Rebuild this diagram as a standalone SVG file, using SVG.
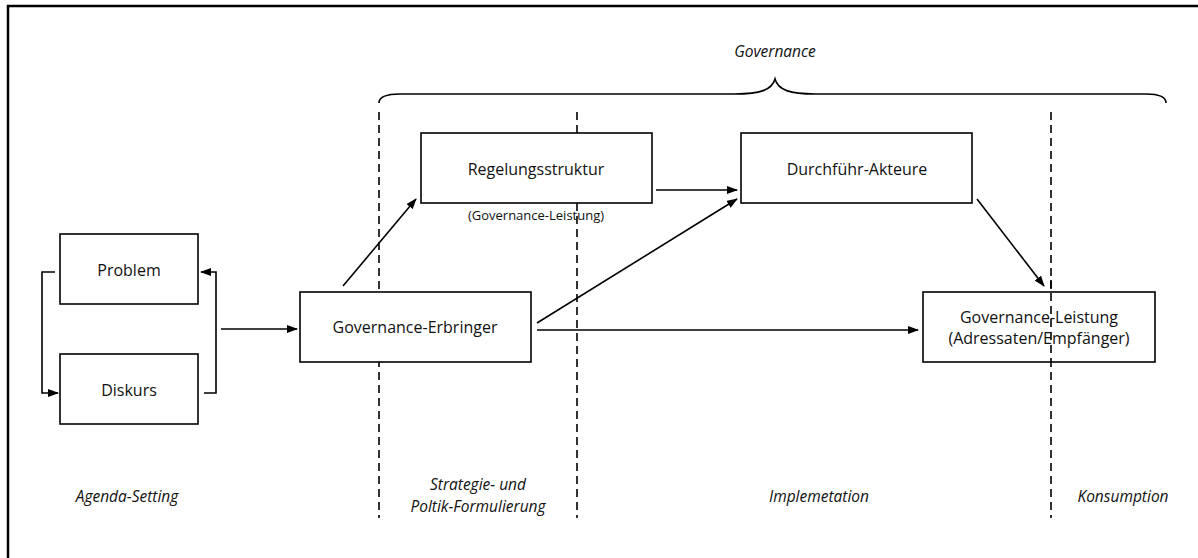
<svg xmlns="http://www.w3.org/2000/svg" width="1198" height="558" viewBox="0 0 1198 558">
<style>
.box{fill:#fff;stroke:#000;stroke-width:1.6}
.t{font-family:"Open Sans","Noto Sans",sans-serif;font-size:16px;fill:#111;text-anchor:middle}
.s{font-size:13px}
.i{font-family:"Open Sans","Noto Sans",sans-serif;font-size:15.5px;font-style:italic;fill:#111;text-anchor:middle}
.c{fill:none;stroke:#000;stroke-width:1.6}
.d{fill:none;stroke:#000;stroke-width:1.6;stroke-dasharray:8 5}
</style>
<defs>
<marker id="ah" markerUnits="userSpaceOnUse" markerWidth="11" markerHeight="8" refX="10" refY="4" orient="auto">
<path d="M0,0 L11,4 L0,8 z" fill="#000"/>
</marker>
</defs>
<rect width="1198" height="558" fill="#fff"/>
<path d="M8,558 L8,6 L1198,6" fill="none" stroke="#000" stroke-width="2.5"/>
<g id="brace">
<path class="c" d="M379,103 Q379,94 400,94 L735,94 C760,94 772,90 775,79 C778,90 790,94 815,94 L1146,94 Q1166,94 1166,103"/>
<text class="i" x="775" y="57">Governance</text>
</g>
<g id="phases">
<line class="d" x1="379" y1="112" x2="379" y2="518"/>
<line class="d" x1="577" y1="112" x2="577" y2="518"/>
<line class="d" x1="1051" y1="112" x2="1051" y2="518"/>
<text class="i" x="127" y="502">Agenda-Setting</text>
<text class="i" x="478" y="490">Strategie- und</text>
<text class="i" x="478" y="512">Poltik-Formulierung</text>
<text class="i" x="819" y="502">Implemetation</text>
<text class="i" x="1123" y="502">Konsumption</text>
</g>
<g id="problem">
<rect class="box" x="60" y="234" width="138" height="70"/>
<text class="t" x="129" y="276">Problem</text>
</g>
<g id="diskurs">
<rect class="box" x="60" y="354" width="138" height="70"/>
<text class="t" x="129" y="396">Diskurs</text>
</g>
<g id="erbringer">
<rect class="box" x="300" y="292" width="231" height="70"/>
<text class="t" x="415" y="333">Governance-Erbringer</text>
</g>
<g id="regelung">
<rect class="box" x="421" y="133" width="231" height="70"/>
<text class="t" x="536" y="175">Regelungsstruktur</text>
<text class="t s" x="536" y="220">(Governance-Leistung)</text>
</g>
<g id="durchfuehr">
<rect class="box" x="741" y="133" width="231" height="70"/>
<text class="t" x="857" y="175">Durchführ-Akteure</text>
</g>
<g id="leistung">
<rect class="box" x="923" y="292" width="232" height="70"/>
<text class="t" x="1039" y="323">Governance-Leistung</text>
<text class="t" x="1039" y="344">(Adressaten/Empfänger)</text>
</g>
<line class="d" x1="1051" y1="280" x2="1051" y2="362"/>
<g id="connectors">
<polyline class="c" points="55,272 42,272 42,393 58,393" marker-end="url(#ah)"/>
<polyline class="c" points="204,393 216,393 216,272 201,272" marker-end="url(#ah)"/>
<line class="c" x1="221" y1="329" x2="297" y2="329" marker-end="url(#ah)"/>
<line class="c" x1="343" y1="286" x2="416" y2="199" marker-end="url(#ah)"/>
<line class="c" x1="537" y1="323" x2="737" y2="199" marker-end="url(#ah)"/>
<line class="c" x1="656" y1="190" x2="737" y2="190" marker-end="url(#ah)"/>
<line class="c" x1="977" y1="199" x2="1044" y2="286" marker-end="url(#ah)"/>
<line class="c" x1="537" y1="330" x2="918" y2="330" marker-end="url(#ah)"/>
</g>
</svg>
